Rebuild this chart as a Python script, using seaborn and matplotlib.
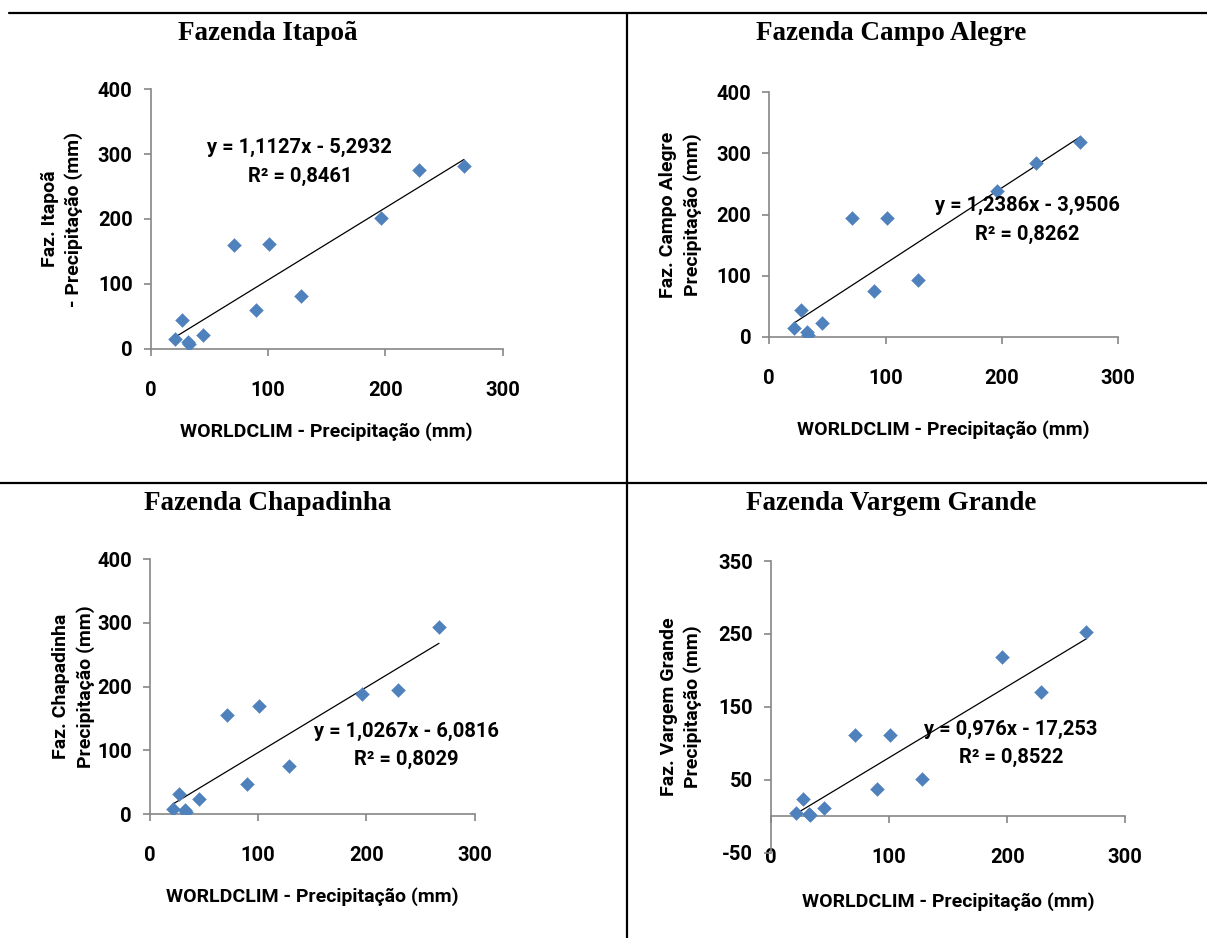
import numpy as np
import matplotlib
matplotlib.use("Agg")
import matplotlib.pyplot as plt
from matplotlib.lines import Line2D
import seaborn as sns

# WORLDCLIM monthly precipitation (x, shared by all farms)
worldclim = [21, 27, 32, 33, 45, 71, 90, 101, 128, 196, 229, 267]

# farm precipitation (y)
itapoa = [15, 45, 10, 7, 21, 160, 60, 161, 81, 201, 275, 281]
campo_alegre = [15, 44, 8, 3, 23, 194, 75, 194, 93, 239, 284, 318]
chapadinha = [8, 31, 7, 3, 24, 156, 47, 169, 76, 188, 194, 293]
vargem_grande = [5, 24, 3, 2, 11, 112, 38, 111, 51, 219, 171, 253]

titles = ["Fazenda Itapoã", "Fazenda Campo Alegre", "Fazenda Chapadinha", "Fazenda Vargem Grande"]
ylabels = ["Faz. Itapoã\n- Precipitação (mm)", "Faz. Campo Alegre\nPrecipitação (mm)",
           "Faz. Chapadinha\nPrecipitação (mm)", "Faz. Vargem Grande\nPrecipitação (mm)"]
slopes = [1.1127, 1.2386, 1.0267, 0.976]
intercepts = [-5.2932, -3.9506, -6.0816, -17.253]
equations = ["y = 1,1127x - 5,2932\nR² = 0,8461", "y = 1,2386x - 3,9506\nR² = 0,8262",
             "y = 1,0267x - 6,0816\nR² = 0,8029", "y = 0,976x - 17,253\nR² = 0,8522"]
yticks = [[0, 100, 200, 300, 400], [0, 100, 200, 300, 400],
          [0, 100, 200, 300, 400], [-50, 50, 150, 250, 350]]
xticks = [0, 100, 200, 300]

sns.set_theme(style="white")
plt.rcParams['font.family'] = ['Roboto', 'DejaVu Sans']
plt.rcParams['font.weight'] = 'bold'
plt.rcParams['text.color'] = 'black'
plt.rcParams['axes.unicode_minus'] = False

W, H = 1207, 938
fig = plt.figure(figsize=(W / 100, H / 100), dpi=100)

# axes boxes in pixels: left, right, y of bottom limit, y of top limit
boxes = [(150.7, 502.7, 348.7, 89.3), (769.3, 1118.3, 336.7, 92.3),
         (150.0, 474.7, 814.0, 559.3), (771.0, 1125.3, 852.7, 561.0)]
title_pos = [(268, 34), (891, 34), (268, 504), (891, 504)]
xlabel_y = [431.7, 430.0, 896.7, 901.7]
ylabel_x = [62, 680.5, 73.5, 681]
eq_pos = [(127, 288), (222, 191), (237, 107), (203, 100)]

series = [itapoa, campo_alegre, chapadinha, vargem_grande]
grey = "#868686"

for i in range(4):
    l, r, b, t = boxes[i]
    ax = fig.add_axes([l / W, 1 - b / H, (r - l) / W, (b - t) / H])
    sns.scatterplot(x=worldclim, y=series[i], ax=ax, marker="D", s=50,
                    color="#4F81BD", edgecolor="#4F81BD", linewidth=0.3, zorder=3)
    xs = np.array([min(worldclim), max(worldclim)])
    ax.plot(xs, slopes[i] * xs + intercepts[i], color="black", lw=0.9, zorder=2)

    ax.set_xlim(0, 300)
    ax.set_ylim(yticks[i][0], yticks[i][-1])
    ax.set_xticks(xticks)
    ax.set_yticks(yticks[i])
    for s in ["top", "right"]:
        ax.spines[s].set_visible(False)
    for s in ["left", "bottom"]:
        ax.spines[s].set_color(grey)
        ax.spines[s].set_linewidth(1.2)
    if i == 3:
        ax.spines["bottom"].set_position(("data", 0))
    ax.tick_params(axis="both", length=5, width=1.2, color=grey, direction="out",
                   labelsize=14.5, labelcolor="black", left=True, bottom=True)
    ax.tick_params(axis="x", pad=18)
    ax.tick_params(axis="y", pad=8)
    for lab in ax.get_xticklabels() + ax.get_yticklabels():
        lab.set_fontweight("bold")

    ax.set_xlabel("")
    ax.set_ylabel("")
    fig.text(title_pos[i][0] / W, 1 - title_pos[i][1] / H, titles[i],
             family="Liberation Serif", weight="bold", fontsize=19.5,
             ha="center", va="center")
    fig.text((l + r) / 2 / W, 1 - xlabel_y[i] / H, "WORLDCLIM - Precipitação (mm)",
             fontsize=14, weight="bold", ha="center", va="center")
    fig.text(ylabel_x[i] / W, 1 - (b + t) / 2 / H, ylabels[i], rotation=90,
             fontsize=14, weight="bold", ha="center", va="center", linespacing=1.4)
    ax.text(eq_pos[i][0], eq_pos[i][1], equations[i], fontsize=14.5, weight="bold",
            ha="center", va="center", linespacing=1.6, zorder=4)

# frame lines
fig.add_artist(Line2D([9 / W, 1], [1 - 13 / H, 1 - 13 / H], color="black", lw=1.6))
fig.add_artist(Line2D([0, 1], [1 - 483 / H, 1 - 483 / H], color="black", lw=1.6))
fig.add_artist(Line2D([626.7 / W, 626.7 / W], [0, 1 - 13 / H], color="black", lw=1.6))

fig.savefig("out.png", dpi=100)
